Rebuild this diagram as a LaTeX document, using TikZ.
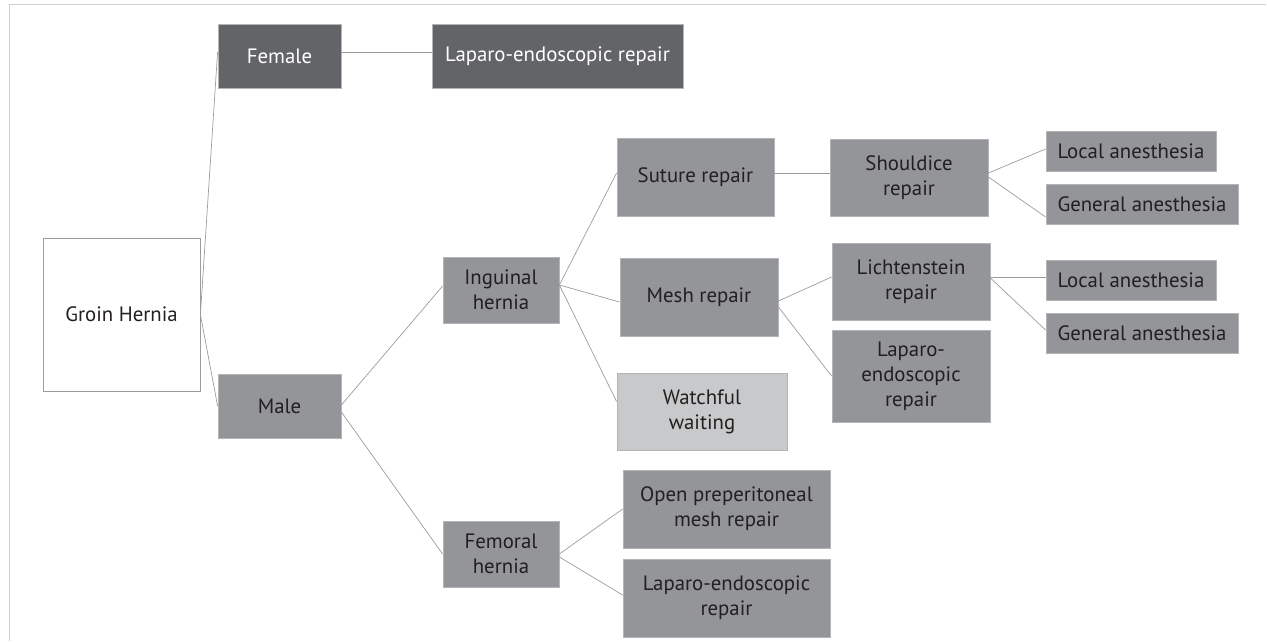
\documentclass[tikz,border=0pt]{standalone}
\usepackage{fontspec}
\setmainfont{PT Sans}
\definecolor{darkbox}{HTML}{636467}
\definecolor{midbox}{HTML}{939598}
\definecolor{lightbox}{HTML}{C8C9CB}
\definecolor{edge}{HTML}{B4B5B7}
\definecolor{conn}{HTML}{9C9C9C}
\definecolor{frame}{HTML}{CFCFCF}
\definecolor{txt}{HTML}{231F20}
\tikzset{
  box/.style={rectangle, draw=edge, line width=0.8pt, fill=midbox, text=txt,
    inner sep=0pt, align=center, font=\fontsize{20.8}{25}\selectfont},
  darkb/.style={box, fill=darkbox, text=white},
  lightb/.style={box, fill=lightbox},
  rootb/.style={box, fill=white, draw=conn},
  conn/.style={draw=conn, line width=0.7pt},
}
\begin{document}
\begin{tikzpicture}[x=1pt,y=-1pt]
\useasboundingbox (0,0) rectangle (1267,641);
\draw[frame, line width=1pt] (9.5,641) -- (9.5,4.5) -- (1266,4.5);

\node[rootb, minimum width=157pt, minimum height=153pt] (groin) at (121.5,314.5) {Groin Hernia};
\node[darkb, minimum width=123pt, minimum height=64pt] (female) at (279.5,56) {Female};
\node[darkb, minimum width=251pt, minimum height=64pt] (laptop) at (557.5,56) {Laparo-endoscopic repair};
\node[box, minimum width=123pt, minimum height=64pt] (male) at (279.5,406) {Male};
\node[box, minimum width=116pt, minimum height=66pt] (ing) at (501,290) {Inguinal\\hernia};
\node[box, minimum width=116pt, minimum height=66pt] (fem) at (501,554) {Femoral\\hernia};
\node[box, minimum width=157pt, minimum height=78pt] (suture) at (695.5,177) {Suture repair};
\node[box, minimum width=158pt, minimum height=78pt] (mesh) at (699,297) {Mesh repair};
\node[lightb, minimum width=170pt, minimum height=77pt] (watch) at (702,411.5) {Watchful\\waiting};
\node[box, minimum width=207pt, minimum height=78pt] (open) at (726.5,509) {Open preperitoneal\\mesh repair};
\node[box, minimum width=207pt, minimum height=78pt] (lapbot) at (726.5,598) {Laparo-endoscopic\\repair};
\node[box, minimum width=158pt, minimum height=77pt] (shoul) at (909,177.5) {Shouldice\\repair};
\node[box, minimum width=158pt, minimum height=77pt] (licht) at (911,281.5) {Lichtenstein\\repair};
\node[box, minimum width=158pt, minimum height=92pt] (lapmid) at (911,376) {Laparo-\\endoscopic\\repair};
\node[box, minimum width=170pt, minimum height=40pt] (loca) at (1131,151) {Local anesthesia};
\node[box, minimum width=192pt, minimum height=40pt] (gena) at (1142,204) {General anesthesia};
\node[box, minimum width=170pt, minimum height=40pt] (locb) at (1131,280) {Local anesthesia};
\node[box, minimum width=192pt, minimum height=40pt] (genb) at (1142,333) {General anesthesia};

\draw[conn] (groin.east) -- ([yshift=4pt]female.west);
\draw[conn] (groin.east) -- (male.west);
\draw[conn] ([yshift=4pt]female.east) -- ([yshift=4pt]laptop.west);
\draw[conn] ([yshift=1pt]male.east) -- ([yshift=4pt]ing.west);
\draw[conn] ([yshift=-6pt]male.east) -- (fem.west);
\draw[conn] ([yshift=5pt]ing.east) -- ([yshift=4pt]suture.west);
\draw[conn] ([yshift=5pt]ing.east) -- ([yshift=-5pt]mesh.west);
\draw[conn] ([yshift=5pt]ing.east) -- ([yshift=10pt]watch.west);
\draw[conn] ([yshift=4pt]suture.east) -- ([yshift=4.5pt]shoul.west);
\draw[conn] ([yshift=4.5pt]shoul.east) -- ([yshift=2pt]loca.west);
\draw[conn] ([yshift=0.5pt]shoul.east) -- ([yshift=-13pt]gena.west);
\draw[conn] ([yshift=-4pt]mesh.east) -- ([yshift=4.5pt]licht.west);
\draw[conn] ([yshift=-10pt]mesh.east) -- (lapmid.west);
\draw[conn] ([yshift=4.5pt]licht.east) -- ([yshift=3pt]locb.west);
\draw[conn] ([yshift=3.5pt]licht.east) -- ([yshift=3pt]genb.west);
\draw[conn] (fem.east) -- (open.west);
\draw[conn] ([yshift=-3pt]fem.east) -- ([yshift=3pt]lapbot.west);
\end{tikzpicture}
\end{document}
